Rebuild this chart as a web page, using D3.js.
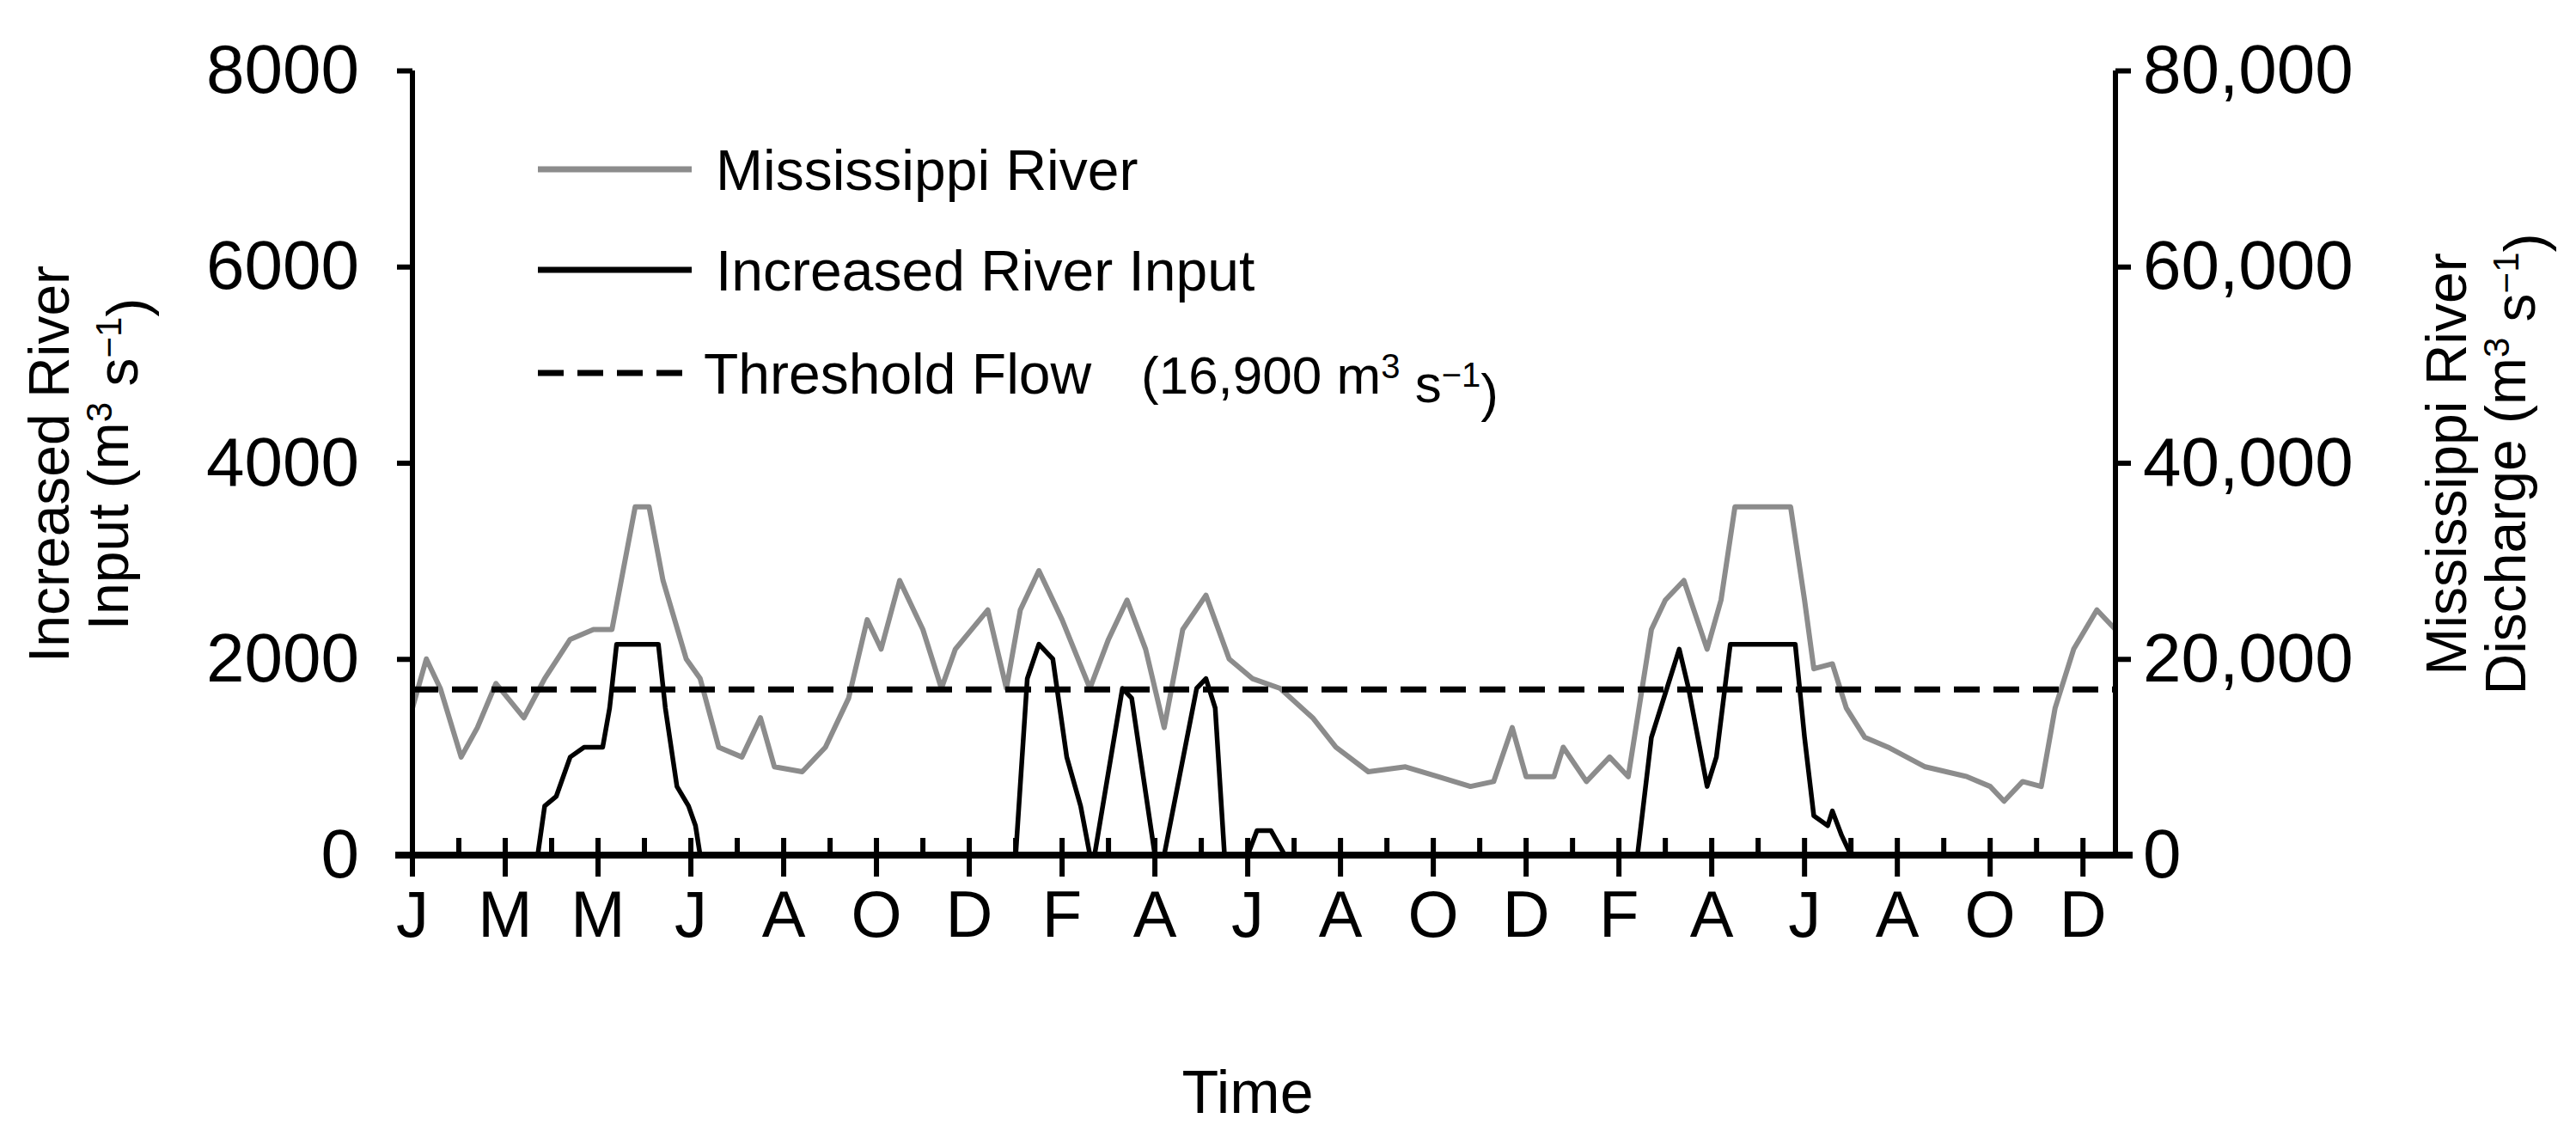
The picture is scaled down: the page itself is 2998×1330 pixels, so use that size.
<!DOCTYPE html>
<html><head><meta charset="utf-8">
<script src="https://cdn.jsdelivr.net/npm/d3@7"></script>
<style>body{margin:0;background:#fff}text{font-family:"Liberation Sans",Arial,sans-serif}</style>
</head><body><svg id="chart" width="2998" height="1330"></svg>
<script>
// months since January of year 1
const monthLabels = ['J','M','M','J','A','O','D','F','A','J','A','O','D','F','A','J','A','O','D'];
const leftTicks = [0, 2000, 4000, 6000, 8000];
const rightTicks = [0, 20000, 40000, 60000, 80000];
const threshold = 16900;

// Mississippi River discharge (m3 s-1)
const riverMonths = [0, 0.3, 0.6, 1.05, 1.4, 1.8, 2.4, 2.85, 3.4, 3.9, 4.3, 4.8, 5.1, 5.4, 5.9, 6.2, 6.6, 7.1, 7.5, 7.8, 8.4, 8.9, 9.4, 9.8, 10.1, 10.5, 11.0, 11.4, 11.7, 12.4, 12.8, 13.1, 13.5, 14.0, 14.6, 15.0, 15.4, 15.8, 16.2, 16.6, 17.1, 17.6, 18.1, 18.7, 19.4, 19.9, 20.6, 21.4, 22.1, 22.8, 23.3, 23.7, 24.0, 24.6, 24.8, 25.3, 25.8, 26.2, 26.7, 27.0, 27.4, 27.9, 28.2, 28.5, 29.7, 30.0, 30.2, 30.6, 30.9, 31.3, 31.8, 32.6, 33.5, 34.0, 34.3, 34.7, 35.1, 35.4, 35.8, 36.3, 36.7];
const riverValues = [15000, 20000, 17000, 10000, 13000, 17500, 14000, 18000, 22000, 23000, 23000, 35500, 35500, 28000, 20000, 18000, 11000, 10000, 14000, 9000, 8500, 11000, 16000, 24000, 21000, 28000, 23000, 17000, 21000, 25000, 17000, 25000, 29000, 24000, 17000, 22000, 26000, 21000, 13000, 23000, 26500, 20000, 18000, 17000, 14000, 11000, 8500, 9000, 8000, 7000, 7500, 13000, 8000, 8000, 11000, 7500, 10000, 8000, 23000, 26000, 28000, 21000, 26000, 35500, 35500, 26000, 19000, 19500, 15000, 12000, 11000, 9000, 8000, 7000, 5500, 7500, 7000, 15000, 21000, 25000, 23000];

// Increased river input (m3 s-1)
const inputMonths = [0, 2.7, 2.85, 3.1, 3.4, 3.7, 4.1, 4.25, 4.4, 5.3, 5.45, 5.7, 5.95, 6.1, 6.2, 13.0, 13.25, 13.5, 13.8, 14.1, 14.4, 14.6, 14.7, 15.3, 15.5, 16.0, 16.2, 16.9, 17.1, 17.3, 17.5, 18.0, 18.2, 18.5, 18.8, 26.4, 26.7, 27.1, 27.3, 27.5, 27.9, 28.1, 28.4, 29.8, 30.0, 30.2, 30.5, 30.6, 30.8, 31.0, 36.7];
const inputValues = [0, 0, 500, 600, 1000, 1100, 1100, 1500, 2150, 2150, 1500, 700, 500, 300, 0, 0, 1800, 2150, 2000, 1000, 500, 0, 0, 1700, 1600, 0, 0, 1700, 1800, 1500, 0, 0, 250, 250, 0, 0, 1200, 1800, 2100, 1700, 700, 1000, 2150, 2150, 1200, 400, 300, 450, 200, 0, 0];

const svg = d3.select('#chart');
const L = 480, R = 2462, T = 82, B = 995;
const x = d3.scaleLinear().domain([0, 36.7]).range([L, R]);
const yL = d3.scaleLinear().domain([0, 8000]).range([B, T]);
const yR = d3.scaleLinear().domain([0, 80000]).range([B, T]);

const line = (xs, ys, yScale) => d3.line().x((d, i) => x(xs[i])).y((d, i) => yScale(ys[i]))(xs);

svg.append('path').attr('d', line(riverMonths, riverValues, yR))
  .attr('fill', 'none').attr('stroke', '#8c8c8c').attr('stroke-width', 6).attr('stroke-linejoin', 'round');
svg.append('path').attr('d', line(inputMonths, inputValues, yL))
  .attr('fill', 'none').attr('stroke', '#000').attr('stroke-width', 5.5).attr('stroke-linejoin', 'round');
svg.append('line').attr('x1', L).attr('x2', R).attr('y1', yR(threshold)).attr('y2', yR(threshold))
  .attr('stroke', '#000').attr('stroke-width', 7).attr('stroke-dasharray', '30,16');

// axes
const lAxis = svg.append('g').attr('transform', `translate(${L},0)`)
  .call(d3.axisLeft(yL).tickValues(leftTicks).tickSize(18).tickPadding(44).tickFormat(d3.format('d')));
const rAxis = svg.append('g').attr('transform', `translate(${R},0)`)
  .call(d3.axisRight(yR).tickValues(rightTicks).tickSize(18).tickPadding(14).tickFormat(d3.format(',')));
[lAxis, rAxis].forEach(a => {
  a.selectAll('path,line').attr('stroke', '#000').attr('stroke-width', 6);
  a.select('.domain').attr('d', `M0,${B}V${T}`);
  a.selectAll('text').attr('font-size', 80).attr('fill', '#000').attr('font-family', '"Liberation Sans",Arial,sans-serif');
});

const xAxis = svg.append('g');
xAxis.append('line').attr('x1', L - 20).attr('x2', R + 20).attr('y1', B).attr('y2', B)
  .attr('stroke', '#000').attr('stroke-width', 8);
xAxis.selectAll('.tk').data(d3.range(0, 37)).join('line')
  .attr('x1', d => x(d)).attr('x2', d => x(d))
  .attr('y1', B - 20).attr('y2', d => d % 2 === 0 ? B + 25 : B)
  .attr('stroke', '#000').attr('stroke-width', 6);
xAxis.selectAll('.ml').data(monthLabels).join('text')
  .attr('x', (d, i) => x(i * 2)).attr('y', B + 95).attr('text-anchor', 'middle')
  .attr('font-size', 76).text(d => d);

svg.append('text').attr('x', x(18)).attr('y', 1295).attr('text-anchor', 'middle').attr('font-size', 70).text('Time');

// axis titles
const lt = svg.append('text').attr('transform', 'translate(90,540) rotate(-90)').attr('text-anchor', 'middle').attr('font-size', 66);
lt.append('tspan').attr('x', 0).attr('dy', '-0.15em').text('Increased River');
const lt2 = lt.append('tspan').attr('x', 0).attr('dy', '1.05em').text('Input (m');
lt2.append('tspan').attr('dy', '-0.45em').attr('font-size', 42).text('3');
lt2.append('tspan').attr('dy', '0.45em').text(' s');
lt2.append('tspan').attr('dy', '-0.45em').attr('font-size', 42).text('−1');
lt2.append('tspan').attr('dy', '0.45em').text(')');

const rt = svg.append('text').attr('transform', 'translate(2880,540) rotate(-90)').attr('text-anchor', 'middle').attr('font-size', 66);
rt.append('tspan').attr('x', 0).attr('dy', '-0.15em').text('Mississippi River');
const rt2 = rt.append('tspan').attr('x', 0).attr('dy', '1.05em').text('Discharge (m');
rt2.append('tspan').attr('dy', '-0.45em').attr('font-size', 42).text('3');
rt2.append('tspan').attr('dy', '0.45em').text(' s');
rt2.append('tspan').attr('dy', '-0.45em').attr('font-size', 42).text('−1');
rt2.append('tspan').attr('dy', '0.45em').text(')');

// legend
const legend = [
  {name: 'Mississippi River', color: '#8c8c8c', dash: null, y: 197, tx: 833},
  {name: 'Increased River Input', color: '#000', dash: null, y: 314, tx: 833},
  {name: 'Threshold Flow', color: '#000', dash: '30,16', y: 434, tx: 819}
];
legend.forEach(d => {
  svg.append('line').attr('x1', 626).attr('x2', 805).attr('y1', d.y).attr('y2', d.y)
    .attr('stroke', d.color).attr('stroke-width', 7).attr('stroke-dasharray', d.dash);
  svg.append('text').attr('x', d.tx).attr('y', d.y + 24).attr('font-size', 66).text(d.name);
});
const th = svg.append('text').attr('x', 1328).attr('y', 458).attr('font-size', 62).text('(16,900 m');
th.append('tspan').attr('dy', '-0.45em').attr('font-size', 40).text('3');
th.append('tspan').attr('dy', '0.45em').text(' s');
th.append('tspan').attr('dy', '-0.45em').attr('font-size', 40).text('−1');
th.append('tspan').attr('dy', '0.45em').text(')');
</script></body></html>
